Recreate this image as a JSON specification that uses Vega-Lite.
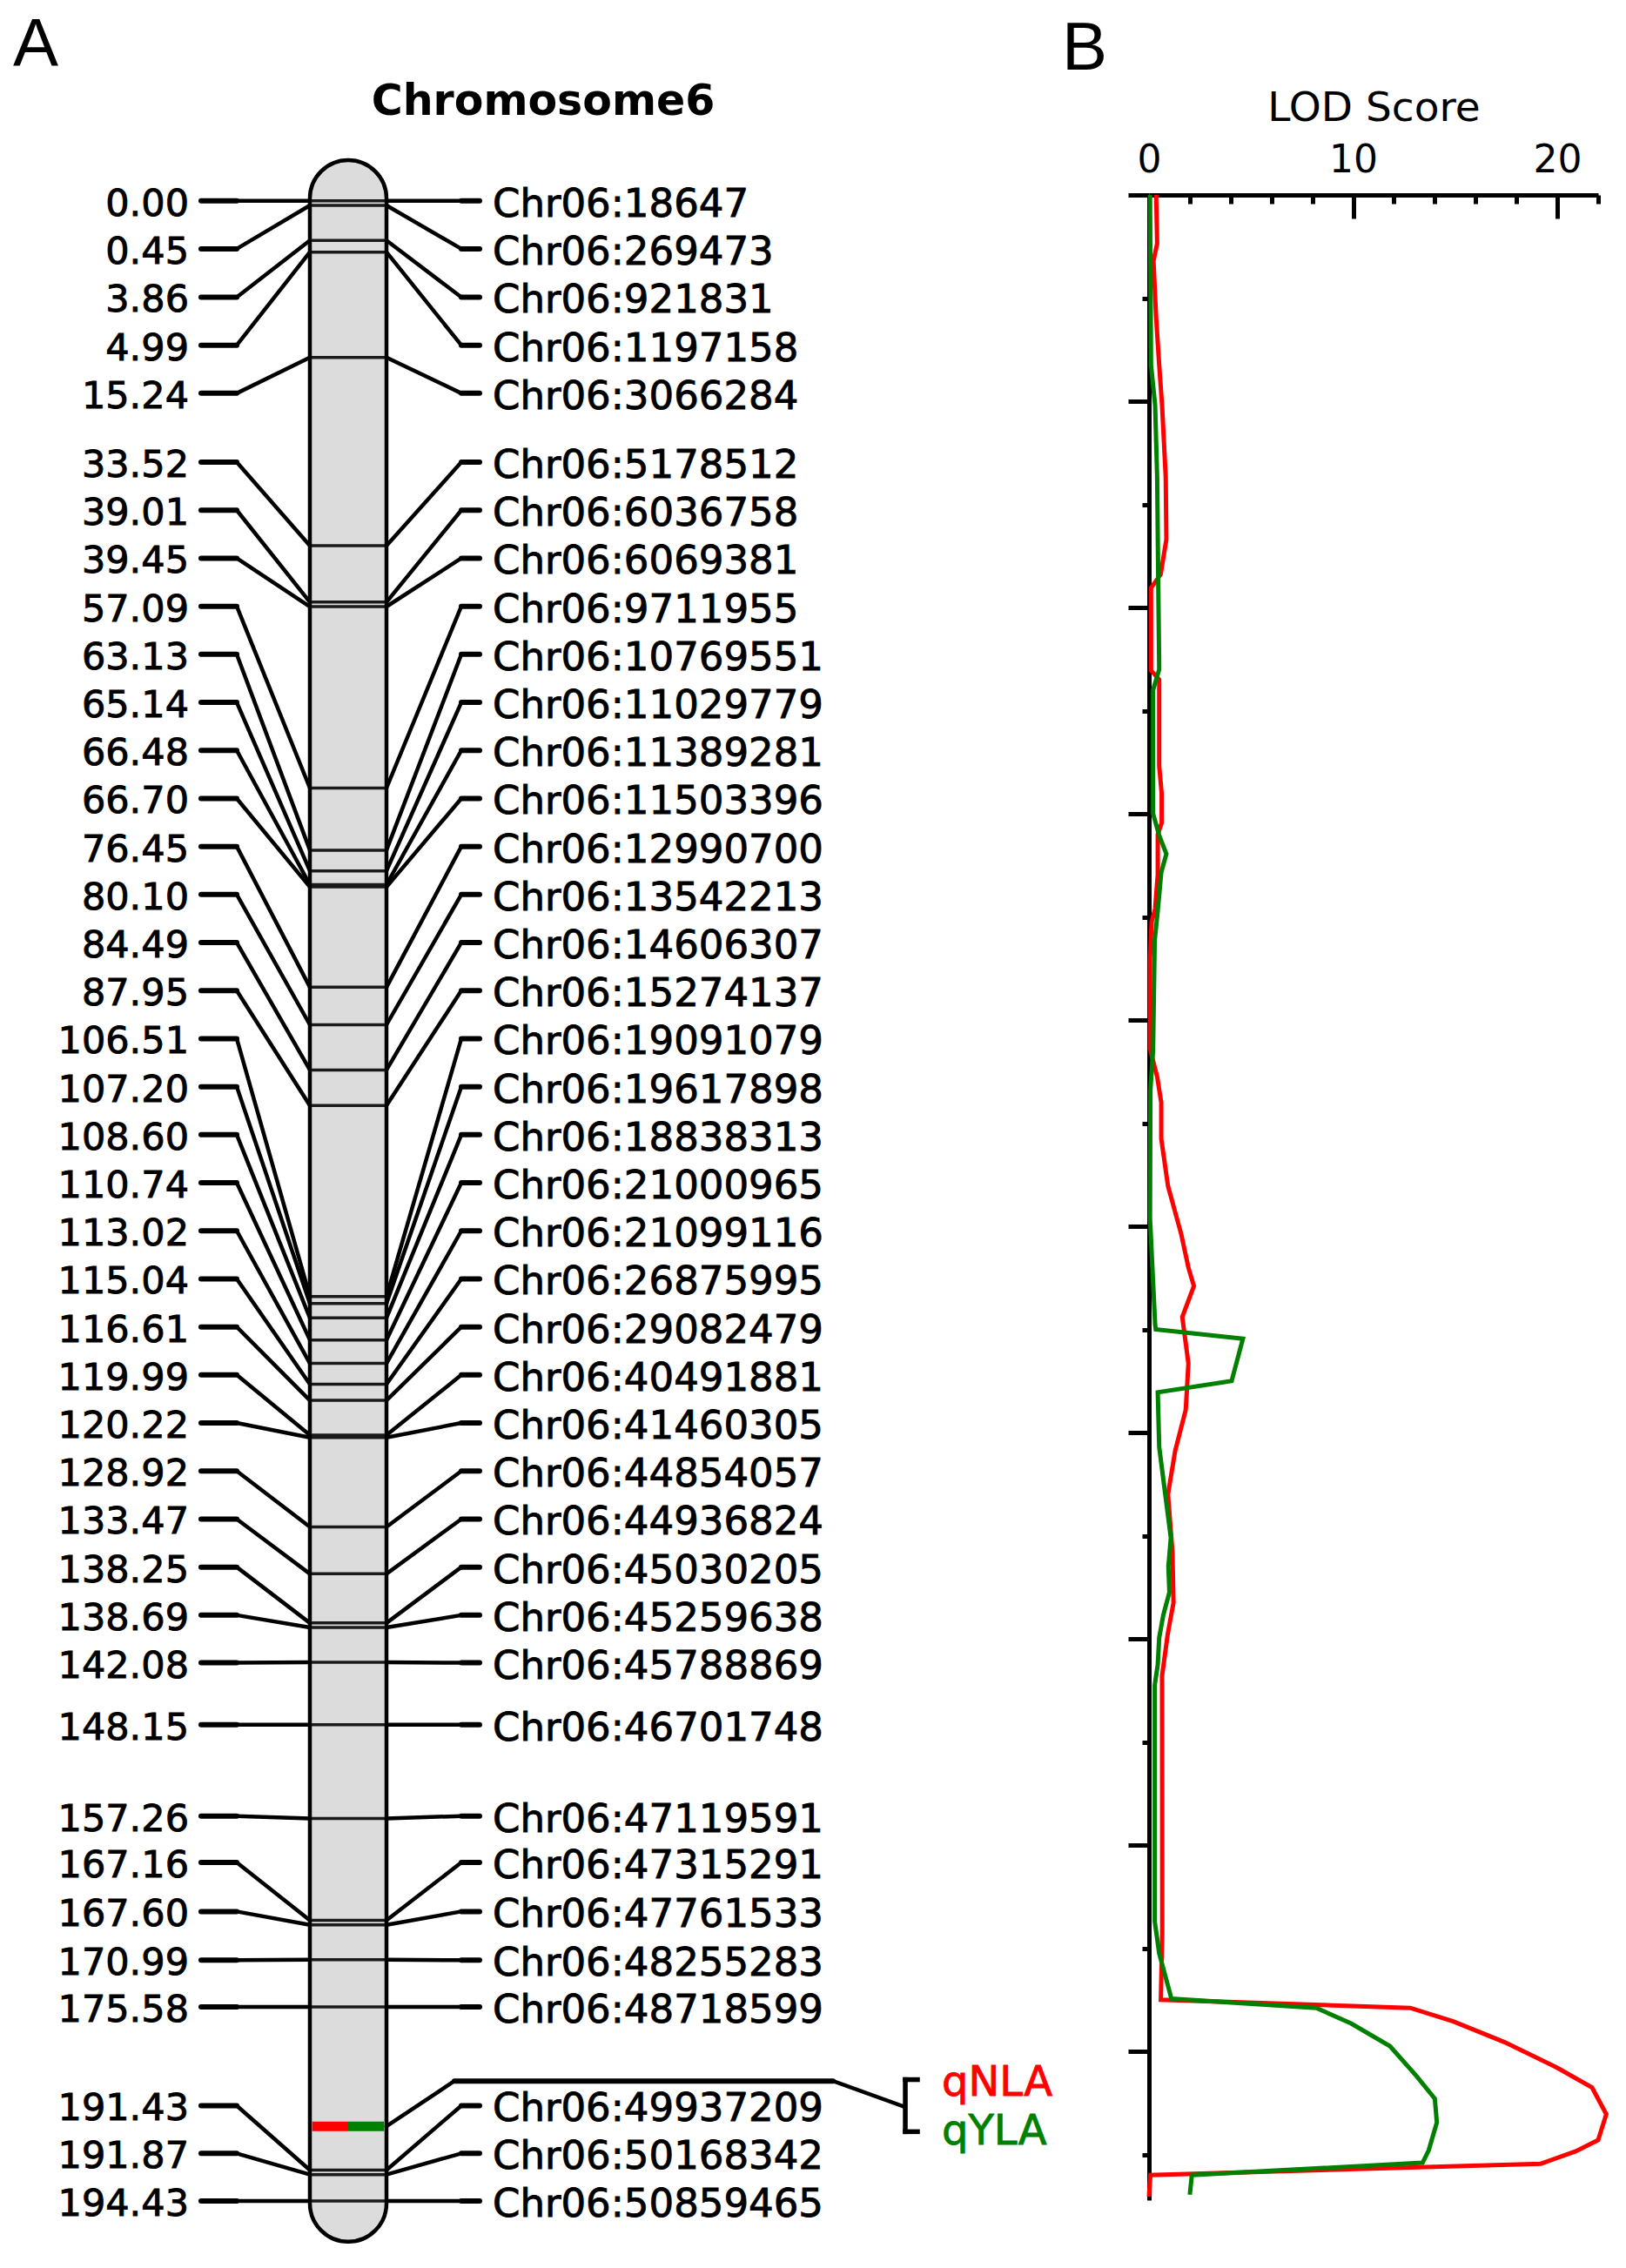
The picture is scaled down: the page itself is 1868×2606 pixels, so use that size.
{
  "$schema": "https://vega.github.io/schema/vega-lite/v6.json",
  "width": 1868,
  "height": 2606,
  "autosize": {"type": "none"},
  "padding": 0,
  "background": "white",
  "config": {"view": {"stroke": null}, "text": {"font": "DejaVu Sans", "color": "black"}},
  "datasets": {
    "chromosome": [{"name": "Chromosome6", "length": 194.43}],
    "panels": [{"panel": "A"}, {"panel": "B"}],
    "markers": [
      {"name": "Chr06:18647", "cM": 0.00, "labelPos": 0.00},
      {"name": "Chr06:269473", "cM": 0.45, "labelPos": 4.67},
      {"name": "Chr06:921831", "cM": 3.86, "labelPos": 9.37},
      {"name": "Chr06:1197158", "cM": 4.99, "labelPos": 14.04},
      {"name": "Chr06:3066284", "cM": 15.24, "labelPos": 18.71},
      {"name": "Chr06:5178512", "cM": 33.52, "labelPos": 25.41},
      {"name": "Chr06:6036758", "cM": 39.01, "labelPos": 30.08},
      {"name": "Chr06:6069381", "cM": 39.45, "labelPos": 34.75},
      {"name": "Chr06:9711955", "cM": 57.09, "labelPos": 39.42},
      {"name": "Chr06:10769551", "cM": 63.13, "labelPos": 44.09},
      {"name": "Chr06:11029779", "cM": 65.14, "labelPos": 48.76},
      {"name": "Chr06:11389281", "cM": 66.48, "labelPos": 53.43},
      {"name": "Chr06:11503396", "cM": 66.70, "labelPos": 58.10},
      {"name": "Chr06:12990700", "cM": 76.45, "labelPos": 62.77},
      {"name": "Chr06:13542213", "cM": 80.10, "labelPos": 67.44},
      {"name": "Chr06:14606307", "cM": 84.49, "labelPos": 72.11},
      {"name": "Chr06:15274137", "cM": 87.95, "labelPos": 76.78},
      {"name": "Chr06:19091079", "cM": 106.51, "labelPos": 81.45},
      {"name": "Chr06:19617898", "cM": 107.20, "labelPos": 86.12},
      {"name": "Chr06:18838313", "cM": 108.60, "labelPos": 90.79},
      {"name": "Chr06:21000965", "cM": 110.74, "labelPos": 95.46},
      {"name": "Chr06:21099116", "cM": 113.02, "labelPos": 100.13},
      {"name": "Chr06:26875995", "cM": 115.04, "labelPos": 104.80},
      {"name": "Chr06:29082479", "cM": 116.61, "labelPos": 109.47},
      {"name": "Chr06:40491881", "cM": 119.99, "labelPos": 114.14},
      {"name": "Chr06:41460305", "cM": 120.22, "labelPos": 118.81},
      {"name": "Chr06:44854057", "cM": 128.92, "labelPos": 123.48},
      {"name": "Chr06:44936824", "cM": 133.47, "labelPos": 128.15},
      {"name": "Chr06:45030205", "cM": 138.25, "labelPos": 132.82},
      {"name": "Chr06:45259638", "cM": 138.69, "labelPos": 137.49},
      {"name": "Chr06:45788869", "cM": 142.08, "labelPos": 142.12},
      {"name": "Chr06:46701748", "cM": 148.15, "labelPos": 148.15},
      {"name": "Chr06:47119591", "cM": 157.26, "labelPos": 157.02},
      {"name": "Chr06:47315291", "cM": 167.16, "labelPos": 161.53},
      {"name": "Chr06:47761533", "cM": 167.60, "labelPos": 166.30},
      {"name": "Chr06:48255283", "cM": 170.99, "labelPos": 171.03},
      {"name": "Chr06:48718599", "cM": 175.58, "labelPos": 175.58},
      {"name": "Chr06:49937209", "cM": 191.43, "labelPos": 185.17},
      {"name": "Chr06:50168342", "cM": 191.87, "labelPos": 189.81},
      {"name": "Chr06:50859465", "cM": 194.43, "labelPos": 194.43}
    ],
    "qtl": [
      {"trait": "qNLA", "from": 186.72, "to": 187.65, "labelPos": 183.0},
      {"trait": "qYLA", "from": 186.72, "to": 187.65, "labelPos": 187.75}
    ],
    "lod": [
      {"trait": "qNLA", "cM": 0.0, "lod": 0.35},
      {"trait": "qNLA", "cM": 4.7, "lod": 0.40},
      {"trait": "qNLA", "cM": 6.4, "lod": 0.22},
      {"trait": "qNLA", "cM": 11.9, "lod": 0.35},
      {"trait": "qNLA", "cM": 16.5, "lod": 0.50},
      {"trait": "qNLA", "cM": 20.4, "lod": 0.64},
      {"trait": "qNLA", "cM": 27.4, "lod": 0.82},
      {"trait": "qNLA", "cM": 33.4, "lod": 0.85},
      {"trait": "qNLA", "cM": 36.8, "lod": 0.57},
      {"trait": "qNLA", "cM": 38.1, "lod": 0.10},
      {"trait": "qNLA", "cM": 46.1, "lod": 0.10},
      {"trait": "qNLA", "cM": 47.0, "lod": 0.50},
      {"trait": "qNLA", "cM": 55.4, "lod": 0.50},
      {"trait": "qNLA", "cM": 58.0, "lod": 0.62},
      {"trait": "qNLA", "cM": 60.9, "lod": 0.62},
      {"trait": "qNLA", "cM": 62.0, "lod": 0.43},
      {"trait": "qNLA", "cM": 65.9, "lod": 0.43},
      {"trait": "qNLA", "cM": 69.2, "lod": 0.30},
      {"trait": "qNLA", "cM": 70.5, "lod": 0.13},
      {"trait": "qNLA", "cM": 74.0, "lod": 0.05},
      {"trait": "qNLA", "cM": 82.8, "lod": 0.05},
      {"trait": "qNLA", "cM": 85.5, "lod": 0.40},
      {"trait": "qNLA", "cM": 88.0, "lod": 0.60},
      {"trait": "qNLA", "cM": 91.5, "lod": 0.60},
      {"trait": "qNLA", "cM": 96.1, "lod": 0.93},
      {"trait": "qNLA", "cM": 100.7, "lod": 1.57},
      {"trait": "qNLA", "cM": 104.0, "lod": 1.93},
      {"trait": "qNLA", "cM": 105.8, "lod": 2.20},
      {"trait": "qNLA", "cM": 108.8, "lod": 1.63},
      {"trait": "qNLA", "cM": 113.3, "lod": 1.93},
      {"trait": "qNLA", "cM": 117.8, "lod": 1.80},
      {"trait": "qNLA", "cM": 121.8, "lod": 1.28},
      {"trait": "qNLA", "cM": 126.0, "lod": 0.93},
      {"trait": "qNLA", "cM": 131.6, "lod": 1.15},
      {"trait": "qNLA", "cM": 136.5, "lod": 1.20},
      {"trait": "qNLA", "cM": 139.5, "lod": 0.92},
      {"trait": "qNLA", "cM": 143.6, "lod": 0.64},
      {"trait": "qNLA", "cM": 168.5, "lod": 0.65},
      {"trait": "qNLA", "cM": 175.0, "lod": 0.58},
      {"trait": "qNLA", "cM": 175.8, "lod": 12.8},
      {"trait": "qNLA", "cM": 177.1, "lod": 14.9},
      {"trait": "qNLA", "cM": 179.1, "lod": 17.4},
      {"trait": "qNLA", "cM": 181.6, "lod": 20.0},
      {"trait": "qNLA", "cM": 183.5, "lod": 21.7},
      {"trait": "qNLA", "cM": 186.1, "lod": 22.4},
      {"trait": "qNLA", "cM": 188.6, "lod": 22.0},
      {"trait": "qNLA", "cM": 189.7, "lod": 20.9},
      {"trait": "qNLA", "cM": 190.9, "lod": 19.2},
      {"trait": "qNLA", "cM": 192.0, "lod": 0.07},
      {"trait": "qNLA", "cM": 194.1, "lod": 0.0},
      {"trait": "qYLA", "cM": 0.0, "lod": 0.05},
      {"trait": "qYLA", "cM": 16.5, "lod": 0.10},
      {"trait": "qYLA", "cM": 20.4, "lod": 0.30},
      {"trait": "qYLA", "cM": 27.4, "lod": 0.40},
      {"trait": "qYLA", "cM": 36.8, "lod": 0.45},
      {"trait": "qYLA", "cM": 46.0, "lod": 0.50},
      {"trait": "qYLA", "cM": 48.0, "lod": 0.20},
      {"trait": "qYLA", "cM": 60.0, "lod": 0.20},
      {"trait": "qYLA", "cM": 62.1, "lod": 0.50},
      {"trait": "qYLA", "cM": 63.9, "lod": 0.85},
      {"trait": "qYLA", "cM": 65.7, "lod": 0.60},
      {"trait": "qYLA", "cM": 69.4, "lod": 0.43},
      {"trait": "qYLA", "cM": 72.3, "lod": 0.28},
      {"trait": "qYLA", "cM": 82.9, "lod": 0.20},
      {"trait": "qYLA", "cM": 86.8, "lod": 0.07},
      {"trait": "qYLA", "cM": 99.2, "lod": 0.05},
      {"trait": "qYLA", "cM": 109.5, "lod": 0.30},
      {"trait": "qYLA", "cM": 110.0, "lod": 0.33},
      {"trait": "qYLA", "cM": 110.9, "lod": 4.60},
      {"trait": "qYLA", "cM": 115.0, "lod": 4.05},
      {"trait": "qYLA", "cM": 116.1, "lod": 0.43},
      {"trait": "qYLA", "cM": 121.4, "lod": 0.50},
      {"trait": "qYLA", "cM": 124.5, "lod": 0.70},
      {"trait": "qYLA", "cM": 130.2, "lod": 1.07},
      {"trait": "qYLA", "cM": 133.0, "lod": 0.95},
      {"trait": "qYLA", "cM": 135.5, "lod": 1.00},
      {"trait": "qYLA", "cM": 137.7, "lod": 0.70},
      {"trait": "qYLA", "cM": 139.9, "lod": 0.50},
      {"trait": "qYLA", "cM": 142.5, "lod": 0.43},
      {"trait": "qYLA", "cM": 144.5, "lod": 0.28},
      {"trait": "qYLA", "cM": 167.4, "lod": 0.28},
      {"trait": "qYLA", "cM": 170.5, "lod": 0.50},
      {"trait": "qYLA", "cM": 174.9, "lod": 1.10},
      {"trait": "qYLA", "cM": 175.8, "lod": 8.2},
      {"trait": "qYLA", "cM": 177.3, "lod": 9.9},
      {"trait": "qYLA", "cM": 179.5, "lod": 11.8},
      {"trait": "qYLA", "cM": 182.4, "lod": 13.1},
      {"trait": "qYLA", "cM": 184.6, "lod": 14.0},
      {"trait": "qYLA", "cM": 186.9, "lod": 14.1},
      {"trait": "qYLA", "cM": 189.6, "lod": 13.7},
      {"trait": "qYLA", "cM": 190.8, "lod": 13.4},
      {"trait": "qYLA", "cM": 192.0, "lod": 2.1},
      {"trait": "qYLA", "cM": 193.9, "lod": 2.0}
    ]
  },
  "resolve": {
    "scale": {"x": "independent", "y": "independent"},
    "axis": {"x": "independent", "y": "independent"}
  },
  "layer": [
    {
      "layer": [
        {
          "data": {"name": "chromosome"},
          "mark": {"type": "rect", "fill": "#dcdcdc", "stroke": "black", "strokeWidth": 4.5, "cornerRadius": 44},
          "encoding": {
            "x": {"datum": 0, "type": "quantitative", "scale": {"domain": [-4.04545, 17.18182], "range": [0, 1868], "nice": false, "zero": false}, "axis": null},
            "x2": {"datum": 1},
            "y": {"datum": -3.95, "type": "quantitative", "scale": {"domain": [0, 194.43], "range": [230.7, 2528.9], "nice": false, "zero": false}, "axis": null},
            "y2": {"datum": 198.4}
          }
        },
        {
          "data": {"name": "markers"},
          "mark": {"type": "rule", "stroke": "#1a1a1a", "strokeWidth": 3.5},
          "encoding": {
            "x": {"datum": 0},
            "x2": {"datum": 1},
            "y": {"field": "cM", "type": "quantitative"}
          }
        },
        {
          "data": {"name": "qtl"},
          "transform": [{"filter": "datum.trait === 'qNLA'"}],
          "mark": {"type": "rect"},
          "encoding": {
            "x": {"datum": 0.03},
            "x2": {"datum": 0.5},
            "y": {"field": "from", "type": "quantitative"},
            "y2": {"field": "to"},
            "color": {"field": "trait", "type": "nominal", "scale": {"domain": ["qNLA", "qYLA"], "range": ["#ff0000", "#008000"]}, "legend": null}
          }
        },
        {
          "data": {"name": "qtl"},
          "transform": [{"filter": "datum.trait === 'qYLA'"}],
          "mark": {"type": "rect"},
          "encoding": {
            "x": {"datum": 0.5},
            "x2": {"datum": 0.97},
            "y": {"field": "from", "type": "quantitative"},
            "y2": {"field": "to"},
            "color": {"field": "trait", "type": "nominal", "legend": null}
          }
        },
        {
          "data": {"name": "markers"},
          "mark": {"type": "rule", "stroke": "black", "strokeWidth": 6, "strokeCap": "round"},
          "encoding": {
            "x": {"datum": -1.4205},
            "x2": {"datum": -0.9545},
            "y": {"field": "labelPos", "type": "quantitative"}
          }
        },
        {
          "data": {"name": "markers"},
          "mark": {"type": "rule", "stroke": "black", "strokeWidth": 4.5, "strokeCap": "round"},
          "encoding": {
            "x": {"datum": -0.9545},
            "x2": {"datum": 0},
            "y": {"field": "labelPos", "type": "quantitative"},
            "y2": {"field": "cM"}
          }
        },
        {
          "data": {"name": "markers"},
          "mark": {"type": "rule", "stroke": "black", "strokeWidth": 4.5, "strokeCap": "round"},
          "encoding": {
            "x": {"datum": 1},
            "x2": {"datum": 1.9773},
            "y": {"field": "cM", "type": "quantitative"},
            "y2": {"field": "labelPos"}
          }
        },
        {
          "data": {"name": "markers"},
          "mark": {"type": "rule", "stroke": "black", "strokeWidth": 6, "strokeCap": "round"},
          "encoding": {
            "x": {"datum": 1.9773},
            "x2": {"datum": 2.2159},
            "y": {"field": "labelPos", "type": "quantitative"}
          }
        },
        {
          "data": {"name": "markers"},
          "mark": {"type": "text", "align": "right", "baseline": "middle", "dy": 4, "fontSize": 43, "stroke": "black", "strokeWidth": 0.9},
          "encoding": {
            "x": {"datum": -1.5795},
            "y": {"field": "labelPos", "type": "quantitative"},
            "text": {"field": "cM", "type": "quantitative", "format": ".2f"}
          }
        },
        {
          "data": {"name": "markers"},
          "mark": {"type": "text", "align": "left", "baseline": "middle", "dy": 4, "fontSize": 45, "stroke": "black", "strokeWidth": 0.9},
          "encoding": {
            "x": {"datum": 2.3864},
            "y": {"field": "labelPos", "type": "quantitative"},
            "text": {"field": "name", "type": "nominal"}
          }
        },
        {
          "data": {"name": "chromosome"},
          "mark": {"type": "rule", "stroke": "black", "strokeWidth": 4.5, "strokeCap": "round"},
          "encoding": {
            "x": {"datum": 1},
            "x2": {"datum": 1.886},
            "y": {"datum": 187.18},
            "y2": {"datum": 182.78}
          }
        },
        {
          "data": {"name": "chromosome"},
          "mark": {"type": "rule", "stroke": "black", "strokeWidth": 6, "strokeCap": "round"},
          "encoding": {
            "x": {"datum": 1.886},
            "x2": {"datum": 6.83},
            "y": {"datum": 182.78}
          }
        },
        {
          "data": {"name": "chromosome"},
          "mark": {"type": "rule", "stroke": "black", "strokeWidth": 4.5, "strokeCap": "round"},
          "encoding": {
            "x": {"datum": 6.83},
            "x2": {"datum": 7.773},
            "y": {"datum": 182.78},
            "y2": {"datum": 185.31}
          }
        },
        {
          "data": {"name": "chromosome"},
          "mark": {"type": "rule", "stroke": "black", "strokeWidth": 5.5, "strokeCap": "square"},
          "encoding": {
            "x": {"datum": 7.773},
            "y": {"datum": 182.64},
            "y2": {"datum": 187.7}
          }
        },
        {
          "data": {"name": "chromosome"},
          "mark": {"type": "rule", "stroke": "black", "strokeWidth": 5.5, "strokeCap": "square"},
          "encoding": {
            "x": {"datum": 7.773},
            "x2": {"datum": 7.932},
            "y": {"datum": 182.64}
          }
        },
        {
          "data": {"name": "chromosome"},
          "mark": {"type": "rule", "stroke": "black", "strokeWidth": 5.5, "strokeCap": "square"},
          "encoding": {
            "x": {"datum": 7.773},
            "x2": {"datum": 7.932},
            "y": {"datum": 187.7}
          }
        },
        {
          "data": {"name": "qtl"},
          "mark": {"type": "text", "align": "left", "baseline": "middle", "fontSize": 48, "strokeWidth": 0.9},
          "encoding": {
            "x": {"datum": 8.25},
            "y": {"field": "labelPos", "type": "quantitative"},
            "text": {"field": "trait", "type": "nominal"},
            "color": {"field": "trait", "type": "nominal", "legend": null},
            "stroke": {"field": "trait", "type": "nominal", "scale": {"domain": ["qNLA", "qYLA"], "range": ["#ff0000", "#008000"]}, "legend": null}
          }
        },
        {
          "data": {"name": "chromosome"},
          "mark": {"type": "text", "align": "center", "baseline": "middle", "fontSize": 49, "fontWeight": "bold"},
          "encoding": {
            "x": {"datum": 3.0455},
            "y": {"datum": -9.6},
            "text": {"field": "name", "type": "nominal"}
          }
        },
        {
          "data": {"name": "panels"},
          "transform": [{"filter": "datum.panel === 'A'"}],
          "mark": {"type": "text", "align": "left", "baseline": "middle", "fontSize": 78, "font": "Liberation Sans"},
          "encoding": {
            "x": {"datum": -3.875},
            "y": {"datum": -15.0},
            "text": {"field": "panel", "type": "nominal"}
          }
        },
        {
          "data": {"name": "panels"},
          "transform": [{"filter": "datum.panel === 'B'"}],
          "mark": {"type": "text", "align": "left", "baseline": "middle", "fontSize": 78, "font": "Liberation Sans"},
          "encoding": {
            "x": {"datum": 9.818},
            "y": {"datum": -14.7},
            "text": {"field": "panel", "type": "nominal"}
          }
        }
      ]
    },
    {
      "data": {"name": "lod"},
      "mark": {"type": "line", "strokeWidth": 5},
      "encoding": {
        "x": {
          "field": "lod",
          "type": "quantitative",
          "scale": {"domain": [0, 22], "range": [1320, 1836], "nice": false, "zero": false},
          "axis": {
            "orient": "top",
            "offset": -224,
            "values": [0, 2, 4, 6, 8, 10, 12, 14, 16, 18, 20, 22],
            "labelExpr": "datum.value % 10 === 0 ? datum.label : ''",
            "tickSize": {"condition": {"test": "datum.value % 10 === 0", "value": -27}, "value": -10},
            "labelPadding": 45,
            "tickWidth": 5,
            "tickColor": "black",
            "domainWidth": 5,
            "domainColor": "black",
            "labelFont": "DejaVu Sans",
            "labelFontSize": 44,
            "labelColor": "black",
            "labelOverlap": false,
            "labelFlush": false,
            "grid": false,
            "title": "LOD Score",
            "titleFont": "DejaVu Sans",
            "titleFontSize": 47,
            "titleFontWeight": "normal",
            "titleColor": "black",
            "titleBaseline": "alphabetic",
            "titleY": -86
          }
        },
        "y": {
          "field": "cM",
          "type": "quantitative",
          "scale": {"domain": [0, 194.43], "range": [224, 2528], "nice": false, "zero": false},
          "axis": {
            "orient": "left",
            "offset": -1320,
            "values": [0, 10, 20, 30, 40, 50, 60, 70, 80, 90, 100, 110, 120, 130, 140, 150, 160, 170, 180, 190],
            "labels": false,
            "tickSize": {"condition": {"test": "datum.value % 20 === 0", "value": 24}, "value": 8},
            "tickWidth": 5,
            "tickColor": "black",
            "domainWidth": 5,
            "domainColor": "black",
            "grid": false,
            "title": null
          }
        },
        "color": {"field": "trait", "type": "nominal", "legend": null},
        "order": {"field": "cM", "type": "quantitative"}
      }
    }
  ]
}
